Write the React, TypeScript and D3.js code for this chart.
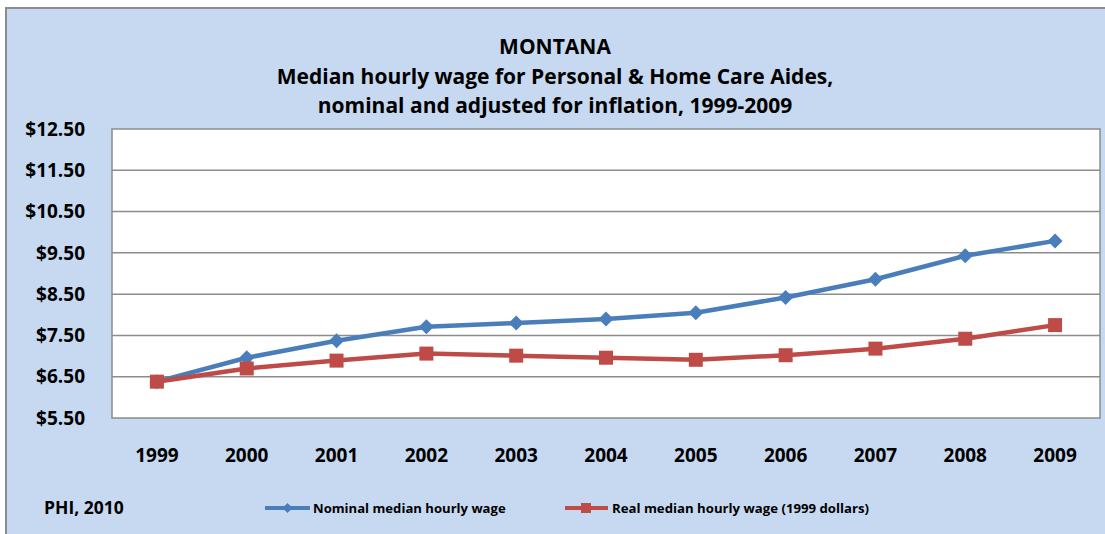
import React from "react";
import * as d3 from "d3";

const years = ["1999","2000","2001","2002","2003","2004","2005","2006","2007","2008","2009"];
const nominal = [6.38, 6.96, 7.37, 7.71, 7.8, 7.9, 8.05, 8.42, 8.86, 9.43, 9.79];
const real = [6.38, 6.7, 6.89, 7.06, 7.01, 6.96, 6.91, 7.02, 7.18, 7.42, 7.75];
const yTicks = [5.5, 6.5, 7.5, 8.5, 9.5, 10.5, 11.5, 12.5];
const titleLines = ["MONTANA", "Median hourly wage for Personal & Home Care Aides,", "nominal and adjusted for inflation, 1999-2009"];
const seriesNames = ["Nominal median hourly wage", "Real median hourly wage (1999 dollars)"];
const source = "PHI, 2010";

const W = 1105, H = 534;
const FONT = "'Open Sans', Lato, sans-serif";
const BLUE = "#4A7EBB";
const RED = "#BE4B48";

export default function App() {
  const left = 112, right = 1100, top = 129, bottom = 418;
  const x = d3.scaleBand().domain(years).range([left, right]);
  const y = d3.scaleLinear().domain([5.5, 12.5]).range([bottom, top]);
  const cx = (d: string) => (x(d) as number) + x.bandwidth() / 2;
  const line = d3.line<number>().x((_, i) => cx(years[i])).y((v) => y(v));
  const diamond = (px: number, py: number, r: number) => `M${px},${py - r}L${px + r},${py}L${px},${py + r}L${px - r},${py}Z`;
  const titleY = [54, 84, 113];

  return (
    <svg width={W} height={H} style={{ position: "absolute", left: 0, top: 0 }} fontFamily={FONT}>
      <rect x={6} y={8} width={W + 10} height={H + 10} fill="#C6D9F1" stroke="#8C8C8C" strokeWidth={2} />
      {titleLines.map((t, i) => (
        <text key={i} x={555} y={titleY[i]} textAnchor="middle" fontSize={21} fontWeight="bold" fill="#000">{t}</text>
      ))}
      <rect x={left} y={top} width={right - left} height={bottom - top} fill="#fff" />
      {yTicks.map((v) => (
        <g key={v}>
          {v > 5.5 && v < 12.5 && <line x1={left} x2={right} y1={y(v)} y2={y(v)} stroke="#8C8C8C" strokeWidth={1.5} />}
          <text x={85} y={y(v)} dy="0.35em" textAnchor="end" fontSize={19} fontWeight="bold">${v.toFixed(2)}</text>
        </g>
      ))}
      <rect x={left} y={top} width={right - left} height={bottom - top} fill="none" stroke="#8C8C8C" strokeWidth={1.5} />
      {years.map((yr) => (
        <text key={yr} x={cx(yr)} y={455} dy="0.35em" textAnchor="middle" fontSize={19} fontWeight="bold">{yr}</text>
      ))}
      <path d={line(nominal) as string} fill="none" stroke={BLUE} strokeWidth={4.5} strokeLinejoin="round" />
      {nominal.map((v, i) => (
        <path key={i} d={diamond(cx(years[i]), y(v), 7.5)} fill={BLUE} />
      ))}
      <path d={line(real) as string} fill="none" stroke={RED} strokeWidth={4.5} strokeLinejoin="round" />
      {real.map((v, i) => (
        <rect key={i} x={cx(years[i]) - 7} y={y(v) - 7} width={14} height={14} fill={RED} />
      ))}
      <text x={44} y={508} dy="0.35em" fontSize={17.5} fontWeight="bold">{source}</text>
      <line x1={265} x2={310} y1={508} y2={508} stroke={BLUE} strokeWidth={4} />
      <path d={diamond(287.5, 508, 5)} fill={BLUE} />
      <text x={313} y={508} dy="0.35em" fontSize={13.1} fontWeight="bold">{seriesNames[0]}</text>
      <line x1={565} x2={608} y1={508} y2={508} stroke={RED} strokeWidth={4} />
      <rect x={581} y={503} width={10} height={10} fill={RED} />
      <text x={612} y={508} dy="0.35em" fontSize={13.2} fontWeight="bold">{seriesNames[1]}</text>
    </svg>
  );
}
